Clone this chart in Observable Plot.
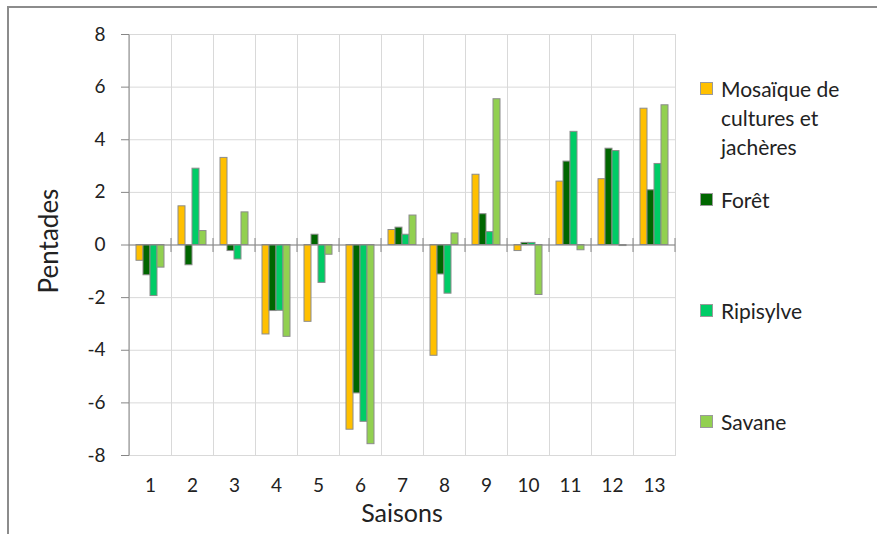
<!DOCTYPE html>
<html>
<head>
<meta charset="utf-8">
<script src="https://cdn.jsdelivr.net/npm/d3@7"></script>
<script src="https://cdn.jsdelivr.net/npm/@observablehq/plot@0.6"></script>
<style>
  html, body { margin: 0; padding: 0; background: #fff; overflow: hidden; }
  #wrap { position: relative; width: 877px; height: 534px; font-family: Lato, "Open Sans", sans-serif; color: #222; overflow: hidden; }
  #frame { position: absolute; left: 7px; top: 6px; width: 920px; height: 620px; border: 2px solid #8c8c8c; box-sizing: border-box; }
  #chart { position: absolute; left: 0; top: 0; }
  .ytitle { position: absolute; width: 200px; height: 30px; line-height: 30px; text-align: center; font-size: 26px;
            left: 48px; top: 241px; transform: translate(-50%, -50%) rotate(-90deg); white-space: nowrap; }
  .xtitle { position: absolute; width: 200px; line-height: 25px; height: 25px; text-align: center; font-size: 25px;
            left: 302px; top: 500px; white-space: nowrap; }
  #legend { position: absolute; left: 700px; top: 74px; }
  .entry { height: 111px; display: flex; align-items: flex-start; }
  .key { width: 13px; height: 13px; box-sizing: border-box; border: 1px solid #9a9a9a; margin-top: 8px; margin-right: 8px; flex: none; }
  .lab { font-size: 21px; line-height: 29px; width: 150px; }
</style>
</head>
<body>
<div id="wrap">
  <div id="frame"></div>
  <div id="chart"></div>
  <div class="ytitle">Pentades</div>
  <div class="xtitle">Saisons</div>
  <div id="legend"></div>
</div>
<script>
// Categories (x tick labels)
const saisons = [1, 2, 3, 4, 5, 6, 7, 8, 9, 10, 11, 12, 13];
// Series names and colours
const series = ["Mosaïque de cultures et jachères", "Forêt", "Ripisylve", "Savane"];
const colors = ["#FFC000", "#006600", "#00CC66", "#92D050"];
// Series values (pentades)
const mosaique  = [-0.6, 1.47, 3.31, -3.4, -2.92, -7.02, 0.57, -4.21, 2.67, -0.23, 2.41, 2.5, 5.18];
const foret     = [-1.15, -0.77, -0.23, -2.51, 0.39, -5.64, 0.66, -1.12, 1.17, 0.08, 3.17, 3.66, 2.08];
const ripisylve = [-1.94, 2.9, -0.55, -2.5, -1.44, -6.72, 0.39, -1.85, 0.49, 0.08, 4.3, 3.57, 3.08];
const savane    = [-0.86, 0.53, 1.24, -3.49, -0.37, -7.57, 1.12, 0.44, 5.54, -1.9, -0.2, -0.04, 5.31];
// Y tick labels
const yTicks = [-8, -6, -4, -2, 0, 2, 4, 6, 8];

const valueLists = [mosaique, foret, ripisylve, savane];
const table = saisons.flatMap((s, i) => series.map((name, k) => ({saison: s, serie: name, value: valueLists[k][i]})));

let renderCalls = 0;
function axisLines(index, scales, values, dimensions, context, next) {
  const g = next(index, scales, values, dimensions, context);
  const ns = "http://www.w3.org/2000/svg";
  const [r0, r1] = scales.x.range();
  const y0 = scales.y(0);
  const first = index.fx !== undefined ? index.fx === saisons[0] : renderCalls === 0;
  renderCalls++;
  const line = (x1, y1, x2, y2) => {
    const l = document.createElementNS(ns, "line");
    l.setAttribute("x1", x1); l.setAttribute("y1", y1);
    l.setAttribute("x2", x2); l.setAttribute("y2", y2);
    l.setAttribute("stroke", "#868686");
    l.setAttribute("stroke-width", 1);
    g.appendChild(l);
  };
  line(r1, y0 - 7, r1, y0 + 7);
  if (first) {
    const [ya, yb] = scales.y.range();
    line(r0, ya, r0, yb);
  }
  return g;
}

const chart = Plot.plot({
  width: 877,
  height: 534,
  marginLeft: 125,
  marginRight: 198,
  marginTop: 34,
  marginBottom: 79,
  style: {fontFamily: "Lato, 'Open Sans', sans-serif", background: "transparent", color: "#222"},
  fx: {domain: saisons, padding: 0, label: null},
  x: {domain: series, paddingInner: 0, paddingOuter: 0.75, axis: null},
  y: {domain: [-8, 8], label: null},
  color: {domain: series, range: colors},
  marks: [
    Plot.gridY(yTicks, {stroke: "#d9d9d9", strokeOpacity: 1}),
    Plot.frame({stroke: "#d9d9d9"}),
    Plot.barY(table, {fx: "saison", x: "serie", y: "value", fill: "serie", stroke: "#8c8c8c", strokeWidth: 1}),
    Plot.ruleY([0], {stroke: "#868686", render: axisLines}),
    Plot.axisY(yTicks, {tickSize: 8, tickPadding: 16, fontSize: 19, color: "#222", stroke: "#868686", label: null, tickFormat: d => String(d)}),
    Plot.axisFx({anchor: "bottom", tickSize: 0, tickPadding: 23, fontSize: 19, color: "#222", label: null, tickFormat: d => String(d)})
  ]
});
document.getElementById("chart").appendChild(chart);

const legend = document.getElementById("legend");
series.forEach((name, k) => {
  const e = document.createElement("div");
  e.className = "entry";
  const key = document.createElement("div");
  key.className = "key";
  key.style.background = colors[k];
  const lab = document.createElement("div");
  lab.className = "lab";
  lab.textContent = name;
  e.appendChild(key); e.appendChild(lab);
  legend.appendChild(e);
});
</script>
</body>
</html>
